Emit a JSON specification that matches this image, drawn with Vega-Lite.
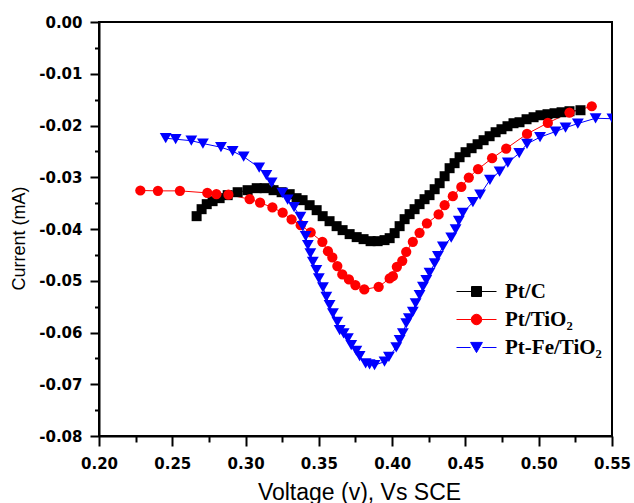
{
  "$schema": "https://vega.github.io/schema/vega-lite/v6.json",
  "width": 513,
  "height": 414,
  "autosize": {"type": "none"},
  "padding": {"left": 99, "top": 22, "right": 22, "bottom": 67},
  "background": "white",
  "config": {
    "view": {"stroke": "black", "strokeWidth": 2},
    "axis": {
      "domainColor": "black", "domainWidth": 2, "tickColor": "black", "tickWidth": 2,
      "grid": false, "labelColor": "black", "titleColor": "black", "labelFlush": false
    }
  },
  "data": {"values": [
    {"s":"Pt/C","v":0.2666,"i":-0.03752},{"s":"Pt/C","v":0.2700,"i":-0.03617},{"s":"Pt/C","v":0.2735,"i":-0.03520},{"s":"Pt/C","v":0.2775,"i":-0.03462},{"s":"Pt/C","v":0.2823,"i":-0.03404},{"s":"Pt/C","v":0.2878,"i":-0.03346},{"s":"Pt/C","v":0.2946,"i":-0.03289},{"s":"Pt/C","v":0.3014,"i":-0.03250},{"s":"Pt/C","v":0.3076,"i":-0.03211},{"s":"Pt/C","v":0.3130,"i":-0.03211},{"s":"Pt/C","v":0.3191,"i":-0.03250},{"s":"Pt/C","v":0.3246,"i":-0.03289},{"s":"Pt/C","v":0.3301,"i":-0.03327},{"s":"Pt/C","v":0.3348,"i":-0.03404},{"s":"Pt/C","v":0.3389,"i":-0.03443},{"s":"Pt/C","v":0.3437,"i":-0.03540},{"s":"Pt/C","v":0.3485,"i":-0.03636},{"s":"Pt/C","v":0.3526,"i":-0.03752},{"s":"Pt/C","v":0.3573,"i":-0.03849},{"s":"Pt/C","v":0.3621,"i":-0.03945},{"s":"Pt/C","v":0.3662,"i":-0.04022},{"s":"Pt/C","v":0.3710,"i":-0.04099},{"s":"Pt/C","v":0.3758,"i":-0.04157},{"s":"Pt/C","v":0.3805,"i":-0.04196},{"s":"Pt/C","v":0.3853,"i":-0.04235},{"s":"Pt/C","v":0.3901,"i":-0.04235},{"s":"Pt/C","v":0.3948,"i":-0.04215},{"s":"Pt/C","v":0.3983,"i":-0.04177},{"s":"Pt/C","v":0.4017,"i":-0.04080},{"s":"Pt/C","v":0.4051,"i":-0.03945},{"s":"Pt/C","v":0.4085,"i":-0.03810},{"s":"Pt/C","v":0.4119,"i":-0.03713},{"s":"Pt/C","v":0.4153,"i":-0.03617},{"s":"Pt/C","v":0.4187,"i":-0.03520},{"s":"Pt/C","v":0.4221,"i":-0.03424},{"s":"Pt/C","v":0.4255,"i":-0.03346},{"s":"Pt/C","v":0.4290,"i":-0.03231},{"s":"Pt/C","v":0.4324,"i":-0.03115},{"s":"Pt/C","v":0.4358,"i":-0.02980},{"s":"Pt/C","v":0.4392,"i":-0.02825},{"s":"Pt/C","v":0.4426,"i":-0.02728},{"s":"Pt/C","v":0.4460,"i":-0.02613},{"s":"Pt/C","v":0.4501,"i":-0.02516},{"s":"Pt/C","v":0.4542,"i":-0.02439},{"s":"Pt/C","v":0.4583,"i":-0.02362},{"s":"Pt/C","v":0.4624,"i":-0.02284},{"s":"Pt/C","v":0.4665,"i":-0.02207},{"s":"Pt/C","v":0.4706,"i":-0.02130},{"s":"Pt/C","v":0.4746,"i":-0.02072},{"s":"Pt/C","v":0.4787,"i":-0.02014},{"s":"Pt/C","v":0.4828,"i":-0.01956},{"s":"Pt/C","v":0.4869,"i":-0.01937},{"s":"Pt/C","v":0.4917,"i":-0.01879},{"s":"Pt/C","v":0.4965,"i":-0.01840},{"s":"Pt/C","v":0.5012,"i":-0.01802},{"s":"Pt/C","v":0.5060,"i":-0.01782},{"s":"Pt/C","v":0.5108,"i":-0.01763},{"s":"Pt/C","v":0.5156,"i":-0.01744},{"s":"Pt/C","v":0.5210,"i":-0.01724},{"s":"Pt/C","v":0.5285,"i":-0.01705},
    {"s":"Pt/TiO₂","v":0.2282,"i":-0.03256},{"s":"Pt/TiO₂","v":0.2402,"i":-0.03263},{"s":"Pt/TiO₂","v":0.2552,"i":-0.03263},{"s":"Pt/TiO₂","v":0.2739,"i":-0.03302},{"s":"Pt/TiO₂","v":0.2801,"i":-0.03327},{"s":"Pt/TiO₂","v":0.2883,"i":-0.03337},{"s":"Pt/TiO₂","v":0.3028,"i":-0.03424},{"s":"Pt/TiO₂","v":0.3099,"i":-0.03491},{"s":"Pt/TiO₂","v":0.3183,"i":-0.03584},{"s":"Pt/TiO₂","v":0.3253,"i":-0.03684},{"s":"Pt/TiO₂","v":0.3314,"i":-0.03816},{"s":"Pt/TiO₂","v":0.3376,"i":-0.03926},{"s":"Pt/TiO₂","v":0.3444,"i":-0.04067},{"s":"Pt/TiO₂","v":0.3524,"i":-0.04248},{"s":"Pt/TiO₂","v":0.3562,"i":-0.04428},{"s":"Pt/TiO₂","v":0.3592,"i":-0.04549},{"s":"Pt/TiO₂","v":0.3626,"i":-0.04717},{"s":"Pt/TiO₂","v":0.3660,"i":-0.04878},{"s":"Pt/TiO₂","v":0.3705,"i":-0.04974},{"s":"Pt/TiO₂","v":0.3749,"i":-0.05084},{"s":"Pt/TiO₂","v":0.3810,"i":-0.05167},{"s":"Pt/TiO₂","v":0.3908,"i":-0.05117},{"s":"Pt/TiO₂","v":0.3983,"i":-0.04955},{"s":"Pt/TiO₂","v":0.4005,"i":-0.04911},{"s":"Pt/TiO₂","v":0.4032,"i":-0.04731},{"s":"Pt/TiO₂","v":0.4069,"i":-0.04615},{"s":"Pt/TiO₂","v":0.4096,"i":-0.04441},{"s":"Pt/TiO₂","v":0.4141,"i":-0.04248},{"s":"Pt/TiO₂","v":0.4187,"i":-0.04074},{"s":"Pt/TiO₂","v":0.4237,"i":-0.03893},{"s":"Pt/TiO₂","v":0.4317,"i":-0.03719},{"s":"Pt/TiO₂","v":0.4358,"i":-0.03540},{"s":"Pt/TiO₂","v":0.4414,"i":-0.03366},{"s":"Pt/TiO₂","v":0.4472,"i":-0.03186},{"s":"Pt/TiO₂","v":0.4523,"i":-0.03005},{"s":"Pt/TiO₂","v":0.4586,"i":-0.02844},{"s":"Pt/TiO₂","v":0.4682,"i":-0.02632},{"s":"Pt/TiO₂","v":0.4778,"i":-0.02445},{"s":"Pt/TiO₂","v":0.4920,"i":-0.02163},{"s":"Pt/TiO₂","v":0.5062,"i":-0.01950},{"s":"Pt/TiO₂","v":0.5210,"i":-0.01750},{"s":"Pt/TiO₂","v":0.5362,"i":-0.01628},
    {"s":"Pt-Fe/TiO₂","v":0.2455,"i":-0.02246},{"s":"Pt-Fe/TiO₂","v":0.2523,"i":-0.02265},{"s":"Pt-Fe/TiO₂","v":0.2630,"i":-0.02294},{"s":"Pt-Fe/TiO₂","v":0.2709,"i":-0.02348},{"s":"Pt-Fe/TiO₂","v":0.2832,"i":-0.02420},{"s":"Pt-Fe/TiO₂","v":0.2912,"i":-0.02497},{"s":"Pt-Fe/TiO₂","v":0.2987,"i":-0.02603},{"s":"Pt-Fe/TiO₂","v":0.3093,"i":-0.02815},{"s":"Pt-Fe/TiO₂","v":0.3142,"i":-0.02960},{"s":"Pt-Fe/TiO₂","v":0.3178,"i":-0.03105},{"s":"Pt-Fe/TiO₂","v":0.3251,"i":-0.03302},{"s":"Pt-Fe/TiO₂","v":0.3287,"i":-0.03433},{"s":"Pt-Fe/TiO₂","v":0.3331,"i":-0.03578},{"s":"Pt-Fe/TiO₂","v":0.3374,"i":-0.03765},{"s":"Pt-Fe/TiO₂","v":0.3389,"i":-0.03945},{"s":"Pt-Fe/TiO₂","v":0.3410,"i":-0.04138},{"s":"Pt-Fe/TiO₂","v":0.3425,"i":-0.04312},{"s":"Pt-Fe/TiO₂","v":0.3442,"i":-0.04472},{"s":"Pt-Fe/TiO₂","v":0.3459,"i":-0.04634},{"s":"Pt-Fe/TiO₂","v":0.3483,"i":-0.04795},{"s":"Pt-Fe/TiO₂","v":0.3500,"i":-0.04955},{"s":"Pt-Fe/TiO₂","v":0.3528,"i":-0.05129},{"s":"Pt-Fe/TiO₂","v":0.3551,"i":-0.05310},{"s":"Pt-Fe/TiO₂","v":0.3573,"i":-0.05471},{"s":"Pt-Fe/TiO₂","v":0.3596,"i":-0.05631},{"s":"Pt-Fe/TiO₂","v":0.3626,"i":-0.05793},{"s":"Pt-Fe/TiO₂","v":0.3642,"i":-0.05953},{"s":"Pt-Fe/TiO₂","v":0.3669,"i":-0.06017},{"s":"Pt-Fe/TiO₂","v":0.3698,"i":-0.06113},{"s":"Pt-Fe/TiO₂","v":0.3721,"i":-0.06243},{"s":"Pt-Fe/TiO₂","v":0.3756,"i":-0.06353},{"s":"Pt-Fe/TiO₂","v":0.3778,"i":-0.06455},{"s":"Pt-Fe/TiO₂","v":0.3819,"i":-0.06596},{"s":"Pt-Fe/TiO₂","v":0.3846,"i":-0.06616},{"s":"Pt-Fe/TiO₂","v":0.3880,"i":-0.06629},{"s":"Pt-Fe/TiO₂","v":0.3948,"i":-0.06565},{"s":"Pt-Fe/TiO₂","v":0.3978,"i":-0.06469},{"s":"Pt-Fe/TiO₂","v":0.4028,"i":-0.06287},{"s":"Pt-Fe/TiO₂","v":0.4051,"i":-0.06146},{"s":"Pt-Fe/TiO₂","v":0.4073,"i":-0.06017},{"s":"Pt-Fe/TiO₂","v":0.4096,"i":-0.05824},{"s":"Pt-Fe/TiO₂","v":0.4114,"i":-0.05727},{"s":"Pt-Fe/TiO₂","v":0.4141,"i":-0.05600},{"s":"Pt-Fe/TiO₂","v":0.4160,"i":-0.05438},{"s":"Pt-Fe/TiO₂","v":0.4187,"i":-0.05277},{"s":"Pt-Fe/TiO₂","v":0.4210,"i":-0.05117},{"s":"Pt-Fe/TiO₂","v":0.4233,"i":-0.04988},{"s":"Pt-Fe/TiO₂","v":0.4255,"i":-0.04847},{"s":"Pt-Fe/TiO₂","v":0.4290,"i":-0.04665},{"s":"Pt-Fe/TiO₂","v":0.4312,"i":-0.04524},{"s":"Pt-Fe/TiO₂","v":0.4346,"i":-0.04341},{"s":"Pt-Fe/TiO₂","v":0.4403,"i":-0.04167},{"s":"Pt-Fe/TiO₂","v":0.4433,"i":-0.04009},{"s":"Pt-Fe/TiO₂","v":0.4455,"i":-0.03843},{"s":"Pt-Fe/TiO₂","v":0.4482,"i":-0.03690},{"s":"Pt-Fe/TiO₂","v":0.4551,"i":-0.03482},{"s":"Pt-Fe/TiO₂","v":0.4600,"i":-0.03337},{"s":"Pt-Fe/TiO₂","v":0.4667,"i":-0.03051},{"s":"Pt-Fe/TiO₂","v":0.4733,"i":-0.02889},{"s":"Pt-Fe/TiO₂","v":0.4789,"i":-0.02719},{"s":"Pt-Fe/TiO₂","v":0.4867,"i":-0.02535},{"s":"Pt-Fe/TiO₂","v":0.4920,"i":-0.02356},{"s":"Pt-Fe/TiO₂","v":0.5009,"i":-0.02226},{"s":"Pt-Fe/TiO₂","v":0.5115,"i":-0.02116},{"s":"Pt-Fe/TiO₂","v":0.5183,"i":-0.02043},{"s":"Pt-Fe/TiO₂","v":0.5267,"i":-0.01962},{"s":"Pt-Fe/TiO₂","v":0.5388,"i":-0.01860},{"s":"Pt-Fe/TiO₂","v":0.5503,"i":-0.01869}
  ]},
  "layer": [
    {
      "mark": {"type": "line", "strokeWidth": 1, "clip": true},
      "encoding": {
        "x": {"field": "v", "type": "quantitative",
          "scale": {"domain": [0.2, 0.55], "nice": false, "zero": false},
          "axis": {"orient": "bottom", "values": [0.2,0.25,0.3,0.35,0.4,0.45,0.5,0.55],
            "labelExpr": "format(datum.value, '.2f')", "tickSize": 10, "labelPadding": 10,
            "labelFont": "DejaVu Sans", "labelFontWeight": "bold", "labelFontSize": 15,
            "title": "Voltage (v), Vs SCE", "titleFont": "Liberation Sans", "titleFontWeight": "normal", "titleFontSize": 23,
            "titleX": 260, "titleY": 63, "titleBaseline": "alphabetic", "titleAlign": "center"}},
        "y": {"field": "i", "type": "quantitative",
          "scale": {"domain": [-0.08, 0], "nice": false, "zero": false},
          "axis": {"orient": "left", "values": [-0.08,-0.07,-0.06,-0.05,-0.04,-0.03,-0.02,-0.01,0],
            "labelExpr": "replace(format(datum.value, '.2f'), '\u2212', '-')", "tickSize": 9, "labelPadding": 8,
            "labelFont": "DejaVu Sans", "labelFontWeight": "bold", "labelFontSize": 15,
            "title": "Current (mA)", "titleFont": "Liberation Sans", "titleFontWeight": "normal", "titleFontSize": 18,
            "titleX": -80, "titleY": 216, "titleAngle": -90, "titleBaseline": "middle", "titleAlign": "center"}},
        "color": {"field": "s", "type": "nominal",
          "scale": {"domain": ["Pt/C", "Pt/TiO₂", "Pt-Fe/TiO₂"], "range": ["#000000", "#ff0000", "#0000ff"]},
          "legend": {"orient": "none", "legendX": 367, "legendY": 259, "title": null,
            "symbolSize": 100, "labelOffset": 18, "rowPadding": 6, "symbolStrokeWidth": 1,
            "labelFont": "Liberation Serif", "labelFontWeight": "bold", "labelFontSize": 21, "labelColor": "black",
            "encode": {"symbols": {"update": {
              "shape": {"signal": "datum.value === 'Pt/C' ? 'M-4,0H-1M1,0H4M-1,-1H1V1H-1Z' : datum.value === 'Pt/TiO₂' ? 'M-4,0H-1.05M1.05,0H4M-1.05,0A1.05,1.05 0 1,0 1.05,0A1.05,1.05 0 1,0 -1.05,0Z' : 'M-4,0H-1.18M1.18,0H4M-1.18,-1.02L1.18,-1.02L0,1.02Z'"},
              "fill": {"signal": "datum.value === 'Pt/C' ? '#000000' : datum.value === 'Pt/TiO₂' ? '#ff0000' : '#0000ff'"},
              "stroke": {"signal": "datum.value === 'Pt/C' ? '#000000' : datum.value === 'Pt/TiO₂' ? '#ff0000' : '#0000ff'"},
              "strokeWidth": {"value": 1},
              "opacity": {"value": 1}
            }}}}}
      }
    },
    {
      "transform": [{"filter": "datum.s === 'Pt/C'"}],
      "mark": {"type": "point", "filled": true, "opacity": 1, "clip": true, "shape": "square", "size": 100, "color": "#000000"},
      "encoding": {
        "x": {"field": "v", "type": "quantitative",
          "axis": {"orient": "bottom", "values": [0.225,0.275,0.325,0.375,0.425,0.475,0.525],
            "tickSize": 6, "labels": false, "domain": false, "title": null}},
        "y": {"field": "i", "type": "quantitative",
          "axis": {"orient": "left", "values": [-0.075,-0.065,-0.055,-0.045,-0.035,-0.025,-0.015,-0.005],
            "tickSize": 4.5, "labels": false, "domain": false, "title": null}}
      }
    },
    {
      "transform": [{"filter": "datum.s === 'Pt/TiO₂'"}],
      "mark": {"type": "point", "filled": true, "opacity": 1, "clip": true, "shape": "circle", "size": 105, "color": "#ff0000"},
      "encoding": {
        "x": {"field": "v", "type": "quantitative", "axis": null},
        "y": {"field": "i", "type": "quantitative", "axis": null}
      }
    },
    {
      "transform": [{"filter": "datum.s === 'Pt-Fe/TiO₂'"}],
      "mark": {"type": "point", "filled": true, "opacity": 1, "clip": true, "shape": "triangle-down", "size": 140, "color": "#0000ff"},
      "encoding": {
        "x": {"field": "v", "type": "quantitative", "axis": null},
        "y": {"field": "i", "type": "quantitative", "axis": null}
      }
    }
  ],
  "resolve": {"axis": {"x": "independent", "y": "independent"}}
}
